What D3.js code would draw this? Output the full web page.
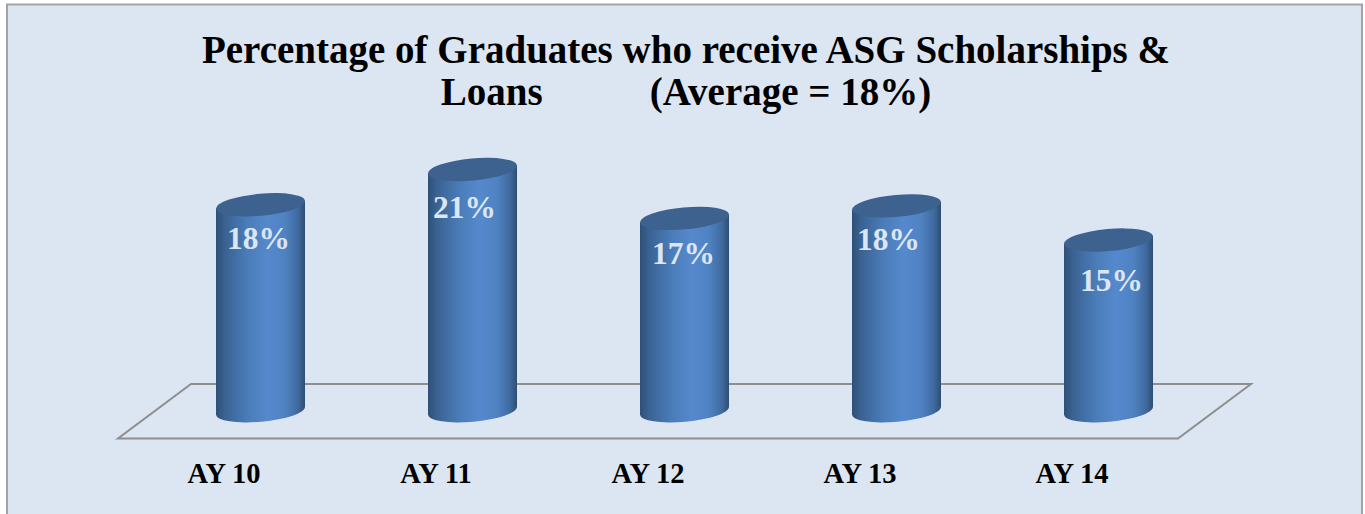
<!DOCTYPE html>
<html>
<head>
<meta charset="utf-8">
<script src="https://cdn.jsdelivr.net/npm/d3@7"></script>
<style>
  html, body { margin: 0; padding: 0; background: #fff; overflow: hidden; }
  svg { display: block; }
  text { font-family: "Liberation Serif", serif; font-weight: 700; }
</style>
</head>
<body>
<div id="chart"></div>
<script>
// -----------------------------
// DATA
// -----------------------------
const YEARS = ["AY 10", "AY 11", "AY 12", "AY 13", "AY 14"];
const SHARE = [18.1, 21.2, 16.9, 18.0, 15.0];
const TITLE_LINES = [
  "Percentage of Graduates who receive ASG Scholarships &",
  "Loans           (Average = 18%)"
];

// -----------------------------
// LAYOUT
// -----------------------------
const width = 1365;
const height = 514;
const floor = { left: 118, right: 1178, front: 438.5, dx: 73, dy: -54.5 };
const barWidth = 89;
const tilt = 4;       // half the drop across an ellipse
const ry = 11;
// data labels were hand placed in the source, offset from the bar centre / top
const labelNudge = [
  { x: -2, y: 34 }, { x: -8, y: 39 }, { x: -1, y: 36 }, { x: -8, y: 34 }, { x: 3, y: 41 }
];

const svg = d3.select("#chart").append("svg")
  .attr("width", width)
  .attr("height", height);

// shading across the cylinder
const defs = svg.append("defs");
const grad = defs.append("linearGradient").attr("id", "barShade");
[[0, "#2f5078"], [0.1, "#3a6292"], [0.35, "#4a7cb8"], [0.58, "#5589cd"], [0.78, "#4f82c2"], [0.92, "#3f6a9f"], [1, "#2e4d73"]]
  .forEach(s => grad.append("stop").attr("offset", s[0]).attr("stop-color", s[1]));

// panel
svg.append("rect")
  .attr("x", 7).attr("y", 4.5)
  .attr("width", 1355).attr("height", 520)
  .attr("fill", "#dce6f2")
  .attr("stroke", "#a3a3a3")
  .attr("stroke-width", 2);

// title
svg.append("g").selectAll("text")
  .data(TITLE_LINES)
  .join("text")
  .attr("x", 686)
  .attr("y", (d, i) => 63 + i * 42)
  .attr("text-anchor", "middle")
  .attr("xml:space", "preserve")
  .style("white-space", "pre")
  .attr("font-size", 39)
  .attr("fill", "#000")
  .text(d => d);

// scales
const xScale = d3.scaleBand()
  .domain(YEARS)
  .range([floor.left, floor.right]);

const base = floor.front + floor.dy / 2 - 0.5;
const yScale = d3.scaleLinear()
  .domain([0, 21])
  .range([base, base - 239]);

// floor
svg.append("path")
  .attr("d", d3.line()([
    [floor.left, floor.front],
    [floor.right, floor.front],
    [floor.right + floor.dx, floor.front + floor.dy],
    [floor.left + floor.dx, floor.front + floor.dy]
  ]) + "Z")
  .attr("fill", "none")
  .attr("stroke", "#8e8e8e")
  .attr("stroke-width", 2);

// axis labels
const axis = svg.append("g")
  .attr("transform", `translate(0,${floor.front})`)
  .call(d3.axisBottom(xScale).tickSize(0).tickPadding(24));
axis.select(".domain").remove();
axis.selectAll("text")
  .attr("font-size", 28.5)
  .attr("fill", "#000")
  .style("font-family", '"Liberation Serif", serif');

// cylinders
const barCx = d => xScale(d) + xScale.bandwidth() / 2 + floor.dx / 2;
const rx = barWidth / 2 / Math.cos(Math.atan2(tilt * 2, barWidth));
const rot = -Math.atan2(tilt * 2, barWidth) * 180 / Math.PI;

const bars = svg.append("g").selectAll("g")
  .data(YEARS.map((year, i) => ({ year, value: SHARE[i], nudge: labelNudge[i] })))
  .join("g");

bars.append("path")
  .attr("fill", "url(#barShade)")
  .attr("d", d => {
    const l = barCx(d.year) - barWidth / 2;
    const r = barCx(d.year) + barWidth / 2;
    const top = yScale(d.value);
    return `M${l},${top + tilt}L${l},${base + tilt}`
      + `A${rx},${ry} ${rot} 0 0 ${r},${base - tilt}`
      + `L${r},${top - tilt}Z`;
  });

bars.append("ellipse")
  .attr("rx", rx)
  .attr("ry", ry)
  .attr("fill", "#3d628f")
  .attr("transform", d => `translate(${barCx(d.year)},${yScale(d.value)}) rotate(${rot})`);

// data labels
bars.append("text")
  .attr("x", d => barCx(d.year) + d.nudge.x)
  .attr("y", d => yScale(d.value) + d.nudge.y + 10)
  .attr("text-anchor", "middle")
  .attr("font-size", 31.5)
  .attr("fill", "#dce6f2")
  .text(d => d3.format(".0f")(d.value) + "%");
</script>
</body>
</html>
